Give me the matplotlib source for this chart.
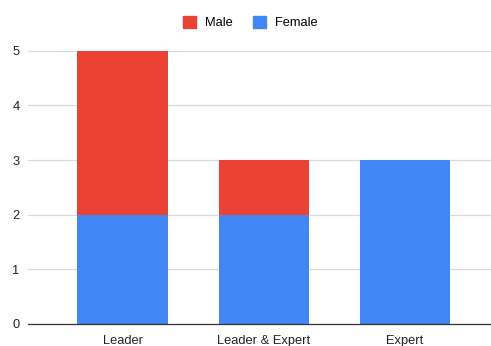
import matplotlib
matplotlib.use('Agg')
from matplotlib import pyplot as plt
from matplotlib.patches import Patch

categories = ['Leader', 'Leader & Expert', 'Expert']
female = [2, 2, 3]
male = [3, 1, 0]

RED = '#EA4335'
BLUE = '#4285F4'

plt.rcParams['font.family'] = ['Liberation Sans', 'DejaVu Sans']

fig = plt.figure(figsize=(4.91, 3.46), dpi=100)
ax = fig.add_axes([0.057, 0.064, 0.943, 0.789])

x = range(len(categories))
ax.bar(x, female, width=0.64, color=BLUE, zorder=3)
ax.bar(x, male, width=0.64, bottom=female, color=RED, zorder=3)

ax.set_xlim(-0.67, 2.61)
ax.set_ylim(0, 5)
ax.set_yticks(range(6))
ax.set_xticks(list(x))
ax.set_xticklabels(categories)
ax.tick_params(axis='both', length=0, labelsize=9.3, colors='#222222')
ax.tick_params(axis='x', pad=8)
ax.tick_params(axis='y', pad=6)
ax.grid(axis='y', color='#d9d9d9', linewidth=0.9, zorder=0)
for side in ['top', 'right', 'left']:
    ax.spines[side].set_visible(False)
ax.spines['bottom'].set_color('#333333')
ax.spines['bottom'].set_linewidth(0.9)
ax.spines['bottom'].set_zorder(4)

handles = [Patch(color=RED, label='Male'), Patch(color=BLUE, label='Female')]
fig.legend(handles=handles, loc='center', bbox_to_anchor=(0.51, 0.934), ncol=2,
           frameon=False, fontsize=9.3, handlelength=1.0, handleheight=1.0,
           handletextpad=0.7, columnspacing=1.6)

fig.savefig('out.png', dpi=100)
